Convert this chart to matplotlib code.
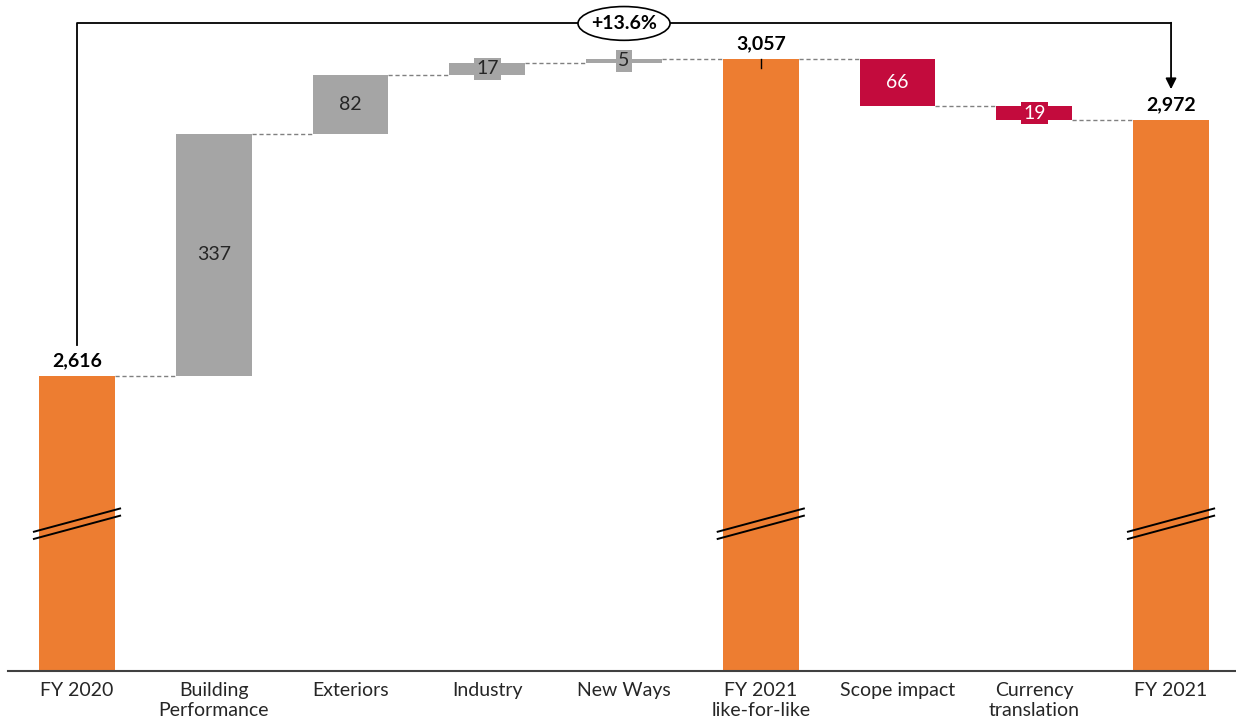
import matplotlib
matplotlib.use("Agg")
import matplotlib.pyplot as plt
from matplotlib.patches import Ellipse

# ---------------- data ----------------
categories = ["FY 2020", "Building\nPerformance", "Exteriors", "Industry", "New Ways",
              "FY 2021\nlike-for-like", "Scope impact", "Currency\ntranslation", "FY 2021"]
values = [2616, 337, 82, 17, 5, 3057, -66, -19, 2972]
kinds = ["total", "delta", "delta", "delta", "delta", "total", "delta", "delta", "total"]
growth_label = "+13.6%"

# ---------------- style ----------------
ORANGE = "#ED7D31"
GRAY = "#A5A5A5"
RED = "#C30B3D"
TXT = "#262626"
FONT = ["Lato", "DejaVu Sans"]
plt.rcParams["font.family"] = FONT

W, H = 1236, 722
fig = plt.figure(figsize=(W / 100, H / 100), dpi=100)
ax = fig.add_axes([8 / W, 51 / H, 1228 / W, 671 / H])

YMIN, YMAX = 2205.6, 3139.1
ax.set_ylim(YMIN, YMAX)
ax.set_xlim(-0.5046, 8.475)
bar_w = 0.555

# compute bar geometry
level = 0
bottoms, heights, colors = [], [], []
for v, k in zip(values, kinds):
    if k == "total":
        bottoms.append(YMIN)
        heights.append(v - YMIN)
        colors.append(ORANGE)
        level = v
    else:
        if v >= 0:
            bottoms.append(level)
            heights.append(v)
            colors.append(GRAY)
        else:
            bottoms.append(level + v)
            heights.append(-v)
            colors.append(RED)
        level += v

x = list(range(len(values)))
ax.bar(x, heights, bottom=bottoms, width=bar_w, color=colors, edgecolor="none", zorder=2)

# connectors
level = 0
levels = []
for v, k in zip(values, kinds):
    level = v if k == "total" else level + v
    levels.append(level)
for i in range(len(values) - 1):
    ax.plot([i + bar_w / 2, i + 1 - bar_w / 2], [levels[i], levels[i]],
            color="#808080", lw=1.0, dashes=(3, 2), zorder=1)

# labels
for i, (v, k) in enumerate(zip(values, kinds)):
    if k == "total":
        ax.annotate(f"{v:,}", xy=(i, v), xytext=(0, 5), textcoords="offset points",
                    ha="center", va="bottom", fontsize=14, fontweight="bold",
                    color="black", zorder=5)
    else:
        cy = bottoms[i] + heights[i] / 2
        col = "white" if v < 0 else TXT
        if abs(v) < 25:
            ax.text(i, cy, f"{abs(v)}", ha="center", va="center", fontsize=14,
                    color=col, zorder=5,
                    bbox=dict(boxstyle="square,pad=0.12", fc=colors[i], ec="none"))
        else:
            ax.text(i, cy, f"{abs(v)}", ha="center", va="center", fontsize=14,
                    color=col, zorder=5)

# small tick at FY 2021 like-for-like
ax.plot([5, 5], [values[5], values[5] - 12.5], color="black", lw=1, zorder=4)

# break marks on total bars
for i, k in enumerate(kinds):
    if k == "total":
        for off in (0, -10):
            ax.plot([i - 0.322, i + 0.322], [2399 + off, 2432 + off],
                    color="black", lw=1.4, zorder=4, solid_capstyle="butt")

# growth bracket
bracket_y = 3107.5
gap = 43
ax.plot([0, 0, 8, 8], [values[0] + gap, bracket_y, bracket_y, bracket_y],
        color="black", lw=1.3, zorder=3)
ax.annotate("", xy=(8, values[8] + gap), xytext=(8, bracket_y),
            arrowprops=dict(arrowstyle="-|>", color="black", lw=1.3,
                            mutation_scale=16, shrinkA=0, shrinkB=0), zorder=3)
ell = Ellipse((4, bracket_y - 1), width=0.673, height=47, facecolor="white",
              edgecolor="black", lw=1.2, zorder=4)
ax.add_patch(ell)
ax.text(4, bracket_y - 1, growth_label, ha="center", va="center", fontsize=14,
        fontweight="bold", color="black", zorder=5)

# axes styling
for s in ["top", "right", "left"]:
    ax.spines[s].set_visible(False)
ax.spines["bottom"].set_color("#404040")
ax.spines["bottom"].set_linewidth(1.5)
ax.set_yticks([])
ax.set_xticks(x)
ax.set_xticklabels(categories, fontsize=14, color=TXT, linespacing=1.2)
ax.tick_params(axis="x", length=0, pad=8)

fig.savefig("out.png", dpi=100)
